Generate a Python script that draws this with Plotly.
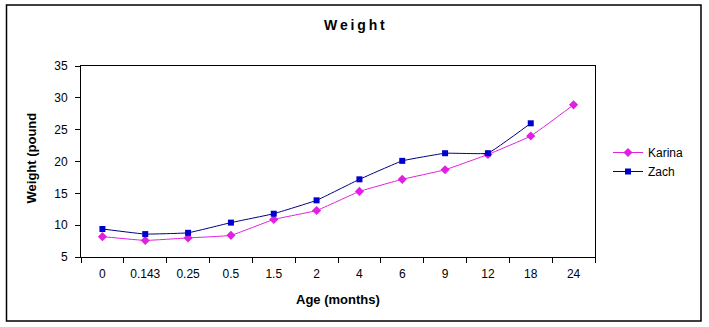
import plotly.graph_objects as go

ages = ["0", "0.143", "0.25", "0.5", "1.5", "2", "4", "6", "9", "12", "18", "24"]
karina = [8.2, 7.6, 8.0, 8.4, 10.9, 12.3, 15.3, 17.2, 18.7, 21.1, 24.0, 28.9]
zach = [9.4, 8.6, 8.8, 10.4, 11.8, 13.9, 17.2, 20.1, 21.3, 21.3, 26.0, None]

W, H = 709, 327
L, R, T, B = 81, 595, 66, 257

def px(x):
    return (x - L) / (R - L)

def py(y):
    return (B - y) / (B - T)

fig = go.Figure()
fig.add_trace(go.Scatter(
    x=ages, y=karina, name="Karina", mode="lines+markers",
    line=dict(color="#E020E0", width=1, shape="spline", smoothing=0.25),
    marker=dict(symbol="diamond", size=7, color="#E020E0"),
))
fig.add_trace(go.Scatter(
    x=ages, y=zach, name="Zach", mode="lines+markers",
    line=dict(color="#000080", width=1, shape="spline", smoothing=0.25),
    marker=dict(symbol="square", size=6, color="#0000CC"),
))

font = "Arial, Liberation Sans, sans-serif"
fig.update_layout(
    width=W, height=H,
    margin=dict(l=L, r=W - R, t=T, b=H - B),
    paper_bgcolor="white", plot_bgcolor="white",
    font=dict(family=font, size=12, color="black"),
    showlegend=True,
    legend=dict(x=px(608), y=py(162), xanchor="left", yanchor="middle",
                font=dict(size=12), bgcolor="rgba(0,0,0,0)",
                tracegroupgap=0, itemwidth=30),
    xaxis=dict(type="category", range=[-0.5, len(ages) - 0.5],
               showline=True, linecolor="black", linewidth=1,
               mirror=True, ticks="outside", ticklen=5, tickcolor="black",
               tickson="boundaries", showgrid=False, zeroline=False,
               ticklabelstandoff=6, tickfont=dict(size=12)),
    yaxis=dict(range=[5, 35], dtick=5, showline=True, linecolor="black", linewidth=1,
               mirror=True, ticks="outside", ticklen=5, tickcolor="black",
               showgrid=False, zeroline=False, ticklabelstandoff=5,
               tickfont=dict(size=12)),
)

fig.add_shape(type="rect", xref="paper", yref="paper",
              x0=px(6.5), x1=px(701), y0=py(321), y1=py(5),
              line=dict(color="black", width=1.5), layer="below")

fig.add_annotation(text="<b>W\u2009e\u2009i\u2009g\u2009h\u2009t</b>", xref="paper", yref="paper",
                   x=px(354), y=py(25), showarrow=False,
                   font=dict(size=14, family=font), xanchor="center", yanchor="middle")
fig.add_annotation(text="<b>Age (months)</b>", xref="paper", yref="paper",
                   x=px(338), y=py(299), showarrow=False,
                   font=dict(size=13, family=font), xanchor="center", yanchor="middle")
fig.add_annotation(text="<b>Weight (pound</b>", xref="paper", yref="paper",
                   x=px(31), y=py(206), showarrow=False, textangle=-90,
                   font=dict(size=13, family=font), xanchor="center", yanchor="bottom")

fig.write_html("out.html")
